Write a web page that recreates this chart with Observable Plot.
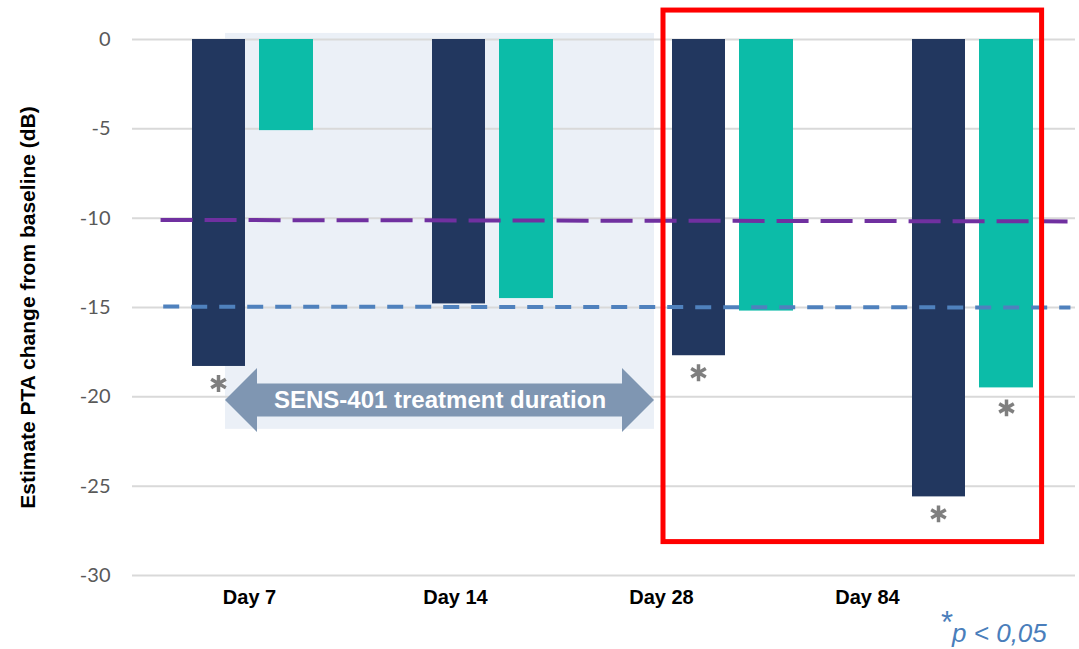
<!DOCTYPE html>
<html><head><meta charset="utf-8">
<script src="https://cdn.jsdelivr.net/npm/d3@7"></script>
<script src="https://cdn.jsdelivr.net/npm/@observablehq/plot@0.6"></script>
<style>
body{margin:0;background:#fff;}
#wrap{position:relative;width:1079px;height:649px;overflow:hidden;background:#fff;}
#wrap svg{display:block;overflow:visible;}
#caption{position:absolute;left:941px;top:617px;font-family:"Liberation Sans",Arial,sans-serif;font-size:26px;color:#4A7EBB;font-style:italic;line-height:30px;white-space:nowrap;}
#caption .star{font-style:normal;font-size:31px;position:relative;top:-9px;margin-right:-1px;}
</style></head><body><div id="wrap"></div>
<script>
// ---- data ----
const days = ["Day 7", "Day 14", "Day 28", "Day 84"];
const navyValues = [-18.3, -14.8, -17.7, -25.6];
const tealValues = [-5.1, -14.5, -15.2, -19.5];
const navySignificant = [true, false, true, true];
const tealSignificant = [false, false, false, true];
const yTicks = [0, -5, -10, -15, -20, -25, -30];
const yTitle = "Estimate PTA change from baseline (dB)";
const arrowLabel = "SENS-401 treatment duration";
const captionText = "p < 0,05";
// reference thresholds (slightly tilted in the source)
const purpleThreshold = [{x1: 0.117, y1: -10.1, x2: 3.896, y2: -10.18}];
const blueThreshold = [{x1: 0.128, y1: -14.95, x2: 3.908, y2: -15.0}];
// annotations (x in group units: group i spans [i, i+1])
const shadeBox = [{x1: 0.3875, x2: 2.175, y1: 0.34, y2: -21.82}];
const arrowSpan = {x1: 0.3875, x2: 2.175, y: -20.2};
const redBox = [{x1: 2.2125, x2: 3.79, y1: 1.62, y2: -28.13}];

// ---- build table ----
const navyRows = days.map((day, i) => ({day, i, value: navyValues[i], sig: navySignificant[i]}));
const tealRows = days.map((day, i) => ({day, i, value: tealValues[i], sig: tealSignificant[i]}));

const NAVY = "#22375F", TEAL = "#0CBCA8";

const arrowMark = (index, scales) => {
  const x1 = scales.x(arrowSpan.x1), x2 = scales.x(arrowSpan.x2), y = scales.y(arrowSpan.y);
  const hh = 32, sh = 16.5, hl = 32;
  const pts = [[x1, y], [x1 + hl, y - hh], [x1 + hl, y - sh], [x2 - hl, y - sh], [x2 - hl, y - hh], [x2, y],
               [x2 - hl, y + hh], [x2 - hl, y + sh], [x1 + hl, y + sh], [x1 + hl, y + hh]];
  return d3.create("svg:polygon")
    .attr("points", pts.map(p => p.join(",")).join(" "))
    .attr("fill", "#7F96B2").node();
};

const main = Plot.plot({
  width: 1079, height: 580,
  marginLeft: 132, marginRight: 4, marginTop: 39, marginBottom: 5,
  style: {fontFamily: "Lato, sans-serif", overflow: "visible"},
  x: {type: "linear", domain: [0, 4], range: [132, 1092], axis: null},
  y: {domain: [-30, 0], axis: null},
  marks: [
    Plot.rect(shadeBox, {x1: "x1", x2: "x2", y1: "y1", y2: "y2", fill: "#EBF0F7"}),
    Plot.ruleY(yTicks, {stroke: "#d9d9d9", strokeWidth: 2}),
    Plot.axisY({ticks: yTicks, tickSize: 0, tickPadding: 22, fontSize: 20, color: "#595959", label: null, tickFormat: d => String(d)}),
    Plot.text([yTitle], {frameAnchor: "left", dx: -104, rotate: -90, textAnchor: "middle", fontWeight: "bold", fontSize: 21, fontFamily: "Liberation Sans, Arial, sans-serif", fill: "#000"}),
    Plot.rect(navyRows, {x1: "i", x2: d => d.i + 1, y1: 0, y2: "value", fill: NAVY, insetLeft: 60, insetRight: 127}),
    Plot.rect(tealRows, {x1: "i", x2: d => d.i + 1, y1: 0, y2: "value", fill: TEAL, insetLeft: 127, insetRight: 59}),
    Plot.link(purpleThreshold, {x1: "x1", y1: "y1", x2: "x2", y2: "y2", stroke: "#7030A0", strokeWidth: 4, strokeDasharray: "32,12"}),
    Plot.link(blueThreshold, {x1: "x1", y1: "y1", x2: "x2", y2: "y2", stroke: "#4F81BD", strokeWidth: 4, strokeDasharray: "16,12"}),
    arrowMark,
    Plot.text([arrowLabel], {x: (arrowSpan.x1 + arrowSpan.x2) / 2, y: arrowSpan.y, fill: "white", fontWeight: "bold", fontSize: 24, fontFamily: "Liberation Sans, Arial, sans-serif"}),
    Plot.dot(navyRows.filter(d => d.sig), {x: d => d.i + 0.5, y: "value", dx: -34, dy: 17, symbol: "asterisk", r: 8, stroke: "#7f7f7f", strokeWidth: 3.5}),
    Plot.dot(tealRows.filter(d => d.sig), {x: d => d.i + 0.5, y: "value", dx: 34, dy: 20, symbol: "asterisk", r: 8, stroke: "#7f7f7f", strokeWidth: 3.5}),
    Plot.rect(redBox, {x1: "x1", x2: "x2", y1: "y1", y2: "y2", fill: "none", stroke: "#FF0000", strokeWidth: 5})
  ]
});

const labels = Plot.plot({
  width: 1079, height: 34,
  marginLeft: 0, marginRight: 0, marginTop: 0, marginBottom: 0,
  x: {type: "point", domain: days, range: [248, 867], padding: 0, axis: null},
  marks: [
    Plot.text(days, {x: d => d, text: d => d, fontSize: 20, fontWeight: "bold", fontFamily: "Liberation Sans, Arial, sans-serif", fill: "#000"})
  ]
});

const wrap = document.getElementById("wrap");
wrap.appendChild(main);
wrap.appendChild(labels);
const cap = document.createElement("div");
cap.id = "caption";
cap.innerHTML = '<span class="star">*</span>' + captionText;
wrap.appendChild(cap);
</script>
</body></html>
